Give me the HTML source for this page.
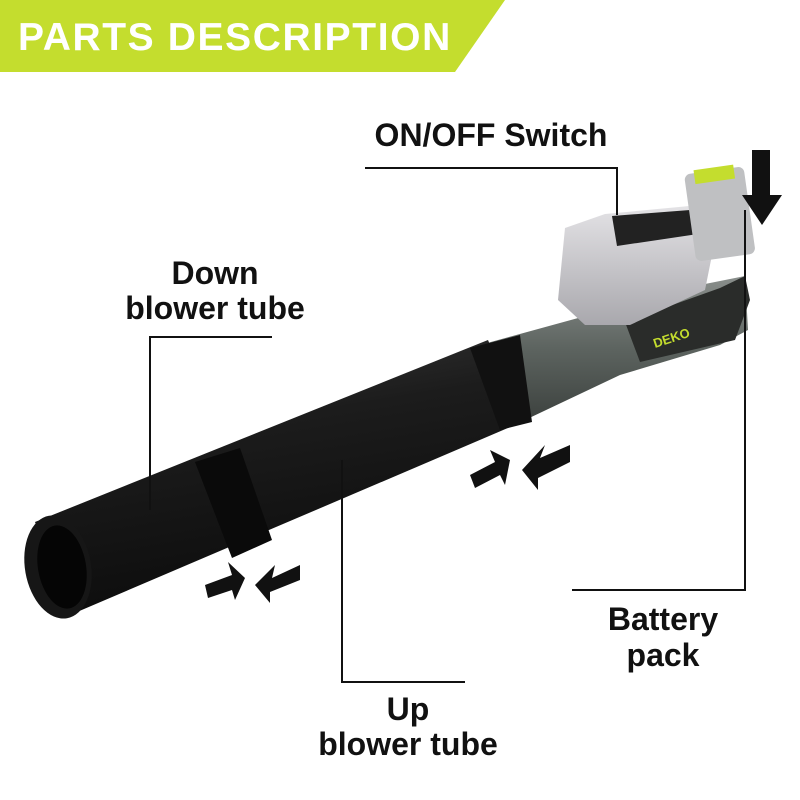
<!DOCTYPE html>
<html><head><meta charset="utf-8"><style>
html,body{margin:0;padding:0;background:#fff;}
svg{display:block}
text{font-family:"Liberation Sans",sans-serif;}
</style></head><body>
<svg width="800" height="800" viewBox="0 0 800 800" xmlns="http://www.w3.org/2000/svg">
<defs>
<linearGradient id="tb" x1="0" y1="0" x2="0.3" y2="1">
<stop offset="0" stop-color="#3a3a3a"/><stop offset="0.4" stop-color="#1c1c1c"/><stop offset="1" stop-color="#0c0c0c"/>
</linearGradient>
<linearGradient id="gh" x1="0" y1="0" x2="0" y2="1">
<stop offset="0" stop-color="#8a8f8c"/><stop offset="0.5" stop-color="#5d6460"/><stop offset="1" stop-color="#3d423f"/>
</linearGradient>
<linearGradient id="hd" x1="0" y1="0" x2="0" y2="1">
<stop offset="0" stop-color="#e4e3e6"/><stop offset="1" stop-color="#a9a8ad"/>
</linearGradient>
</defs>
<rect width="800" height="800" fill="#fff"/>
<polygon points="0,0 505,0 455,72 0,72" fill="#c4dd2e"/>
<text x="18" y="50" font-size="39" font-weight="bold" fill="#fff" letter-spacing="1.6">PARTS DESCRIPTION</text>

<polygon points="480,345 600,312 700,285 745,276 748,330 720,345 620,375 525,420 500,405" fill="url(#gh)"/>
<polygon points="625,322 720,288 745,276 750,300 735,340 640,362" fill="#2a2c2a"/>
<text x="655" y="348" font-size="13" font-weight="bold" fill="#c4dd2e" transform="rotate(-18 655 348)">DEKO</text>
<path d="M565,228 L605,214 L700,205 L715,240 L705,290 L630,325 L585,325 L558,300 Z" fill="url(#hd)"/>
<path d="M612,216 L690,210 L698,234 L617,246 Z" fill="#222"/>
<rect x="690" y="170" width="60" height="88" rx="6" fill="#bfc0c2" transform="rotate(-8 720 215)"/>
<rect x="700" y="167" width="40" height="14" fill="#c4dd2e" transform="rotate(-8 720 215)"/>
<polygon points="35,522 488,340 522,422 70,615" fill="url(#tb)"/>
<polygon points="470,348 520,335 532,422 500,430" fill="#111"/>
<polygon points="195,462 240,448 272,540 232,558" fill="#0a0a0a"/>
<ellipse cx="58" cy="567" rx="33" ry="52" fill="#161616" transform="rotate(-10 58 567)"/>
<ellipse cx="62" cy="567" rx="24" ry="42" fill="#050505" transform="rotate(-10 62 567)"/>

<polygon points="205,585 232,575 228,562 245,578 235,600 232,590 208,598" fill="#111"/>
<polygon points="300,565 272,578 275,565 255,585 270,603 270,592 300,580" fill="#111"/>
<polygon points="470,475 495,462 490,450 510,460 505,485 500,475 475,488" fill="#111"/>
<polygon points="570,445 540,458 545,445 522,470 538,490 538,478 570,462" fill="#111"/>
<polygon points="752,150 770,150 770,195 782,195 762,225 742,195 752,195" fill="#111"/>

<g stroke="#111" stroke-width="2" fill="none">
<polyline points="365,168 617,168 617,215"/>
<polyline points="272,337 150,337 150,510"/>
<polyline points="745,210 745,590 572,590"/>
<polyline points="342,460 342,682 465,682"/>
</g>

<g font-size="32" font-weight="bold" fill="#111" text-anchor="middle">
<text x="491" y="146">ON/OFF Switch</text>
<text x="215" y="284">Down</text>
<text x="215" y="319">blower tube</text>
<text x="663" y="630">Battery</text>
<text x="663" y="666">pack</text>
<text x="408" y="720">Up</text>
<text x="408" y="755">blower tube</text>
</g>
</svg>
</body></html>
